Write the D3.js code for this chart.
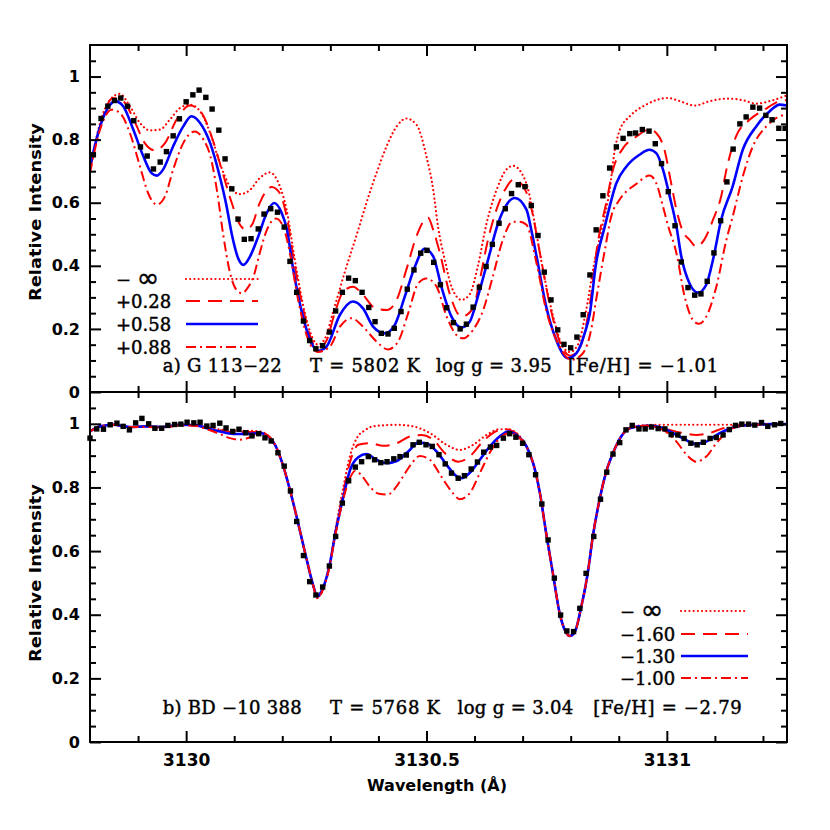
<!DOCTYPE html>
<html><head><meta charset="utf-8">
<script src="https://cdn.jsdelivr.net/npm/d3@7"></script>
<style>body{margin:0;background:#fff}</style>
</head><body>
<svg id="chart" width="830" height="830"></svg>
<script>
// ---------------- DATA ----------------
const waveDomain = [3129.8, 3131.25];
const fluxDomain = [0, 1.1];
const xMajorTicks = [3130, 3130.5, 3131];
const xTickLabels = ["3130", "3130.5", "3131"];
const xMinorTicks = [3129.9, 3130.1, 3130.2, 3130.3, 3130.4, 3130.6, 3130.7, 3130.8, 3130.9, 3131.1, 3131.2];
const yMajorTicks = [0, 0.2, 0.4, 0.6, 0.8, 1];
const yTickLabels = ["0", "0.2", "0.4", "0.6", "0.8", "1"];
const yMinorTicks = [0.05,0.1,0.15,0.25,0.3,0.35,0.45,0.5,0.55,0.65,0.7,0.75,0.85,0.9,0.95,1.05];

// Panel a) G 113-22 : observed spectrum
const topObserved = [[3129.807,0.752],[3129.823,0.867],[3129.837,0.906],[3129.851,0.924],[3129.864,0.932],[3129.878,0.906],[3129.891,0.860],[3129.905,0.777],[3129.919,0.748],[3129.932,0.707],[3129.946,0.729],[3129.959,0.762],[3129.973,0.812],[3129.986,0.866],[3130.000,0.920],[3130.014,0.942],[3130.027,0.957],[3130.041,0.934],[3130.054,0.897],[3130.068,0.830],[3130.081,0.739],[3130.095,0.644],[3130.108,0.548],[3130.121,0.484],[3130.135,0.486],[3130.150,0.517],[3130.162,0.564],[3130.176,0.581],[3130.190,0.570],[3130.204,0.523],[3130.216,0.414],[3130.230,0.316],[3130.244,0.225],[3130.257,0.163],[3130.270,0.137],[3130.284,0.147],[3130.298,0.190],[3130.311,0.257],[3130.325,0.316],[3130.338,0.361],[3130.352,0.353],[3130.366,0.316],[3130.380,0.268],[3130.393,0.223],[3130.406,0.186],[3130.420,0.184],[3130.433,0.202],[3130.447,0.255],[3130.460,0.326],[3130.474,0.387],[3130.488,0.440],[3130.501,0.449],[3130.515,0.411],[3130.529,0.340],[3130.542,0.267],[3130.556,0.220],[3130.570,0.200],[3130.583,0.215],[3130.597,0.269],[3130.610,0.332],[3130.624,0.398],[3130.637,0.468],[3130.651,0.535],[3130.664,0.581],[3130.677,0.629],[3130.691,0.657],[3130.705,0.651],[3130.718,0.591],[3130.732,0.496],[3130.745,0.380],[3130.759,0.292],[3130.773,0.197],[3130.786,0.151],[3130.800,0.140],[3130.813,0.174],[3130.826,0.245],[3130.840,0.371],[3130.853,0.514],[3130.867,0.622],[3130.881,0.710],[3130.895,0.777],[3130.909,0.804],[3130.923,0.819],[3130.935,0.821],[3130.949,0.832],[3130.963,0.827],[3130.976,0.787],[3130.989,0.724],[3131.003,0.635],[3131.017,0.527],[3131.030,0.412],[3131.044,0.331],[3131.058,0.307],[3131.071,0.311],[3131.084,0.351],[3131.098,0.441],[3131.112,0.543],[3131.125,0.666],[3131.138,0.770],[3131.152,0.850],[3131.165,0.872],[3131.179,0.903],[3131.193,0.900],[3131.206,0.877],[3131.219,0.863],[3131.233,0.836],[3131.246,0.836]];

// Panel a) synthetic spectra
const topFitNone = [[3129.800,0.705],[3129.821,0.853],[3129.842,0.927],[3129.862,0.945],[3129.883,0.906],[3129.904,0.853],[3129.925,0.829],[3129.946,0.832],[3129.966,0.863],[3129.987,0.900],[3130.008,0.911],[3130.029,0.890],[3130.050,0.821],[3130.070,0.726],[3130.091,0.652],[3130.112,0.627],[3130.133,0.641],[3130.153,0.678],[3130.174,0.696],[3130.195,0.652],[3130.209,0.578],[3130.226,0.420],[3130.247,0.250],[3130.262,0.175],[3130.274,0.150],[3130.289,0.170],[3130.305,0.250],[3130.330,0.380],[3130.358,0.514],[3130.375,0.599],[3130.396,0.694],[3130.417,0.779],[3130.438,0.842],[3130.458,0.867],[3130.479,0.848],[3130.500,0.747],[3130.514,0.641],[3130.524,0.525],[3130.538,0.420],[3130.553,0.330],[3130.573,0.292],[3130.590,0.310],[3130.607,0.400],[3130.625,0.535],[3130.646,0.641],[3130.666,0.705],[3130.680,0.717],[3130.698,0.694],[3130.715,0.620],[3130.725,0.535],[3130.746,0.360],[3130.767,0.220],[3130.783,0.145],[3130.798,0.127],[3130.815,0.150],[3130.831,0.250],[3130.848,0.400],[3130.864,0.514],[3130.881,0.640],[3130.891,0.760],[3130.902,0.830],[3130.923,0.874],[3130.957,0.911],[3131.002,0.932],[3131.027,0.922],[3131.058,0.908],[3131.089,0.922],[3131.127,0.930],[3131.158,0.925],[3131.186,0.914],[3131.214,0.922],[3131.249,0.940]];
const topFit028 = [[3129.800,0.705],[3129.821,0.842],[3129.848,0.932],[3129.869,0.922],[3129.894,0.853],[3129.914,0.789],[3129.935,0.766],[3129.956,0.789],[3129.980,0.863],[3130.008,0.908],[3130.032,0.885],[3130.053,0.810],[3130.074,0.705],[3130.095,0.599],[3130.112,0.530],[3130.124,0.515],[3130.137,0.530],[3130.153,0.599],[3130.178,0.650],[3130.195,0.630],[3130.209,0.557],[3130.226,0.400],[3130.247,0.240],[3130.262,0.160],[3130.274,0.140],[3130.291,0.160],[3130.309,0.250],[3130.327,0.318],[3130.347,0.334],[3130.368,0.308],[3130.393,0.266],[3130.417,0.260],[3130.438,0.292],[3130.458,0.387],[3130.479,0.493],[3130.496,0.546],[3130.503,0.553],[3130.514,0.514],[3130.528,0.440],[3130.548,0.313],[3130.573,0.239],[3130.597,0.266],[3130.611,0.356],[3130.628,0.483],[3130.646,0.580],[3130.663,0.640],[3130.681,0.673],[3130.700,0.655],[3130.717,0.590],[3130.736,0.440],[3130.756,0.280],[3130.777,0.160],[3130.800,0.115],[3130.819,0.140],[3130.840,0.280],[3130.856,0.470],[3130.874,0.600],[3130.888,0.705],[3130.909,0.773],[3130.937,0.810],[3130.964,0.832],[3130.978,0.821],[3130.995,0.768],[3131.009,0.662],[3131.020,0.578],[3131.033,0.510],[3131.047,0.483],[3131.061,0.461],[3131.078,0.483],[3131.096,0.546],[3131.113,0.620],[3131.124,0.705],[3131.144,0.810],[3131.172,0.863],[3131.203,0.895],[3131.235,0.922],[3131.249,0.925]];
const topFit058 = [[3129.800,0.714],[3129.821,0.842],[3129.842,0.911],[3129.852,0.922],[3129.869,0.906],[3129.890,0.832],[3129.911,0.747],[3129.928,0.694],[3129.939,0.686],[3129.952,0.705],[3129.973,0.779],[3129.994,0.842],[3130.011,0.874],[3130.029,0.853],[3130.050,0.789],[3130.070,0.683],[3130.084,0.590],[3130.095,0.500],[3130.108,0.425],[3130.119,0.403],[3130.133,0.430],[3130.150,0.493],[3130.167,0.565],[3130.183,0.599],[3130.199,0.567],[3130.209,0.520],[3130.223,0.387],[3130.243,0.239],[3130.261,0.154],[3130.275,0.131],[3130.292,0.144],[3130.320,0.245],[3130.347,0.287],[3130.368,0.265],[3130.389,0.207],[3130.413,0.186],[3130.434,0.213],[3130.455,0.303],[3130.476,0.398],[3130.496,0.454],[3130.514,0.430],[3130.531,0.334],[3130.552,0.239],[3130.573,0.205],[3130.590,0.223],[3130.607,0.303],[3130.628,0.419],[3130.649,0.535],[3130.659,0.573],[3130.684,0.615],[3130.708,0.578],[3130.718,0.514],[3130.729,0.430],[3130.749,0.271],[3130.770,0.165],[3130.794,0.107],[3130.812,0.123],[3130.829,0.186],[3130.840,0.250],[3130.852,0.400],[3130.871,0.525],[3130.895,0.662],[3130.916,0.715],[3130.943,0.752],[3130.964,0.768],[3130.978,0.757],[3130.992,0.705],[3131.006,0.620],[3131.020,0.525],[3131.030,0.430],[3131.047,0.345],[3131.065,0.315],[3131.082,0.340],[3131.096,0.419],[3131.113,0.546],[3131.137,0.652],[3131.158,0.768],[3131.186,0.842],[3131.214,0.890],[3131.235,0.911],[3131.249,0.908]];
const topFit088 = [[3129.800,0.694],[3129.821,0.832],[3129.845,0.895],[3129.862,0.885],[3129.883,0.821],[3129.904,0.715],[3129.921,0.630],[3129.939,0.594],[3129.956,0.620],[3129.973,0.705],[3129.994,0.789],[3130.018,0.826],[3130.036,0.800],[3130.050,0.750],[3130.064,0.640],[3130.077,0.500],[3130.091,0.380],[3130.104,0.325],[3130.116,0.313],[3130.128,0.330],[3130.141,0.370],[3130.153,0.440],[3130.168,0.514],[3130.187,0.550],[3130.203,0.520],[3130.216,0.440],[3130.232,0.300],[3130.253,0.170],[3130.274,0.127],[3130.299,0.144],[3130.320,0.207],[3130.344,0.234],[3130.368,0.207],[3130.396,0.160],[3130.420,0.135],[3130.441,0.160],[3130.462,0.250],[3130.483,0.345],[3130.500,0.360],[3130.521,0.334],[3130.542,0.239],[3130.562,0.181],[3130.576,0.170],[3130.597,0.197],[3130.618,0.260],[3130.638,0.366],[3130.659,0.483],[3130.679,0.540],[3130.694,0.540],[3130.708,0.530],[3130.729,0.408],[3130.749,0.260],[3130.777,0.144],[3130.801,0.102],[3130.822,0.117],[3130.840,0.180],[3130.856,0.320],[3130.871,0.450],[3130.885,0.560],[3130.902,0.610],[3130.937,0.660],[3130.964,0.686],[3130.978,0.662],[3130.992,0.588],[3131.002,0.530],[3131.020,0.440],[3131.037,0.303],[3131.054,0.229],[3131.067,0.216],[3131.082,0.239],[3131.103,0.334],[3131.124,0.483],[3131.137,0.556],[3131.158,0.683],[3131.179,0.779],[3131.207,0.842],[3131.235,0.874],[3131.249,0.879]];

// Panel b) BD -10 388 : observed spectrum
const botObserved = [[3129.800,0.955],[3129.814,0.984],[3129.828,0.983],[3129.842,0.997],[3129.856,1.002],[3129.869,0.992],[3129.882,0.981],[3129.895,1.003],[3129.908,1.017],[3129.922,1.000],[3129.935,0.986],[3129.949,0.986],[3129.962,0.995],[3129.976,0.998],[3129.989,0.999],[3130.002,1.005],[3130.016,1.003],[3130.029,1.005],[3130.043,0.993],[3130.056,0.995],[3130.070,1.002],[3130.083,0.987],[3130.097,0.976],[3130.110,0.983],[3130.124,0.972],[3130.137,0.962],[3130.151,0.969],[3130.164,0.956],[3130.177,0.946],[3130.191,0.909],[3130.204,0.867],[3130.217,0.789],[3130.230,0.693],[3130.244,0.586],[3130.257,0.504],[3130.270,0.462],[3130.284,0.487],[3130.298,0.553],[3130.311,0.646],[3130.325,0.751],[3130.338,0.821],[3130.352,0.864],[3130.365,0.881],[3130.379,0.897],[3130.392,0.887],[3130.405,0.878],[3130.418,0.881],[3130.432,0.890],[3130.445,0.897],[3130.458,0.902],[3130.472,0.934],[3130.485,0.942],[3130.499,0.934],[3130.512,0.929],[3130.526,0.903],[3130.539,0.874],[3130.552,0.845],[3130.566,0.829],[3130.579,0.837],[3130.593,0.858],[3130.606,0.880],[3130.619,0.911],[3130.633,0.927],[3130.646,0.932],[3130.660,0.955],[3130.673,0.969],[3130.686,0.958],[3130.700,0.939],[3130.713,0.903],[3130.727,0.840],[3130.740,0.748],[3130.753,0.635],[3130.766,0.515],[3130.779,0.399],[3130.792,0.349],[3130.806,0.347],[3130.819,0.420],[3130.832,0.530],[3130.848,0.646],[3130.862,0.763],[3130.875,0.848],[3130.888,0.905],[3130.902,0.941],[3130.915,0.981],[3130.928,0.995],[3130.942,0.984],[3130.955,0.984],[3130.968,0.990],[3130.982,0.985],[3130.996,0.984],[3131.009,0.966],[3131.023,0.965],[3131.036,0.954],[3131.050,0.939],[3131.063,0.934],[3131.076,0.942],[3131.090,0.954],[3131.103,0.957],[3131.117,0.965],[3131.130,0.982],[3131.143,0.995],[3131.156,0.999],[3131.170,0.999],[3131.183,0.996],[3131.197,1.004],[3131.210,0.992],[3131.224,0.997],[3131.237,1.001]];

// Panel b) synthetic spectra
const botFitNone = [[3129.800,0.976],[3129.821,0.992],[3129.848,0.997],[3129.883,0.990],[3129.918,0.992],[3129.952,0.990],[3129.987,0.997],[3130.022,0.995],[3130.043,0.990],[3130.070,0.982],[3130.098,0.978],[3130.126,0.978],[3130.153,0.976],[3130.171,0.962],[3130.185,0.934],[3130.199,0.881],[3130.216,0.792],[3130.233,0.688],[3130.251,0.572],[3130.264,0.494],[3130.273,0.455],[3130.282,0.470],[3130.298,0.550],[3130.311,0.670],[3130.327,0.800],[3130.341,0.900],[3130.355,0.955],[3130.372,0.980],[3130.389,0.992],[3130.438,0.997],[3130.472,0.992],[3130.507,0.971],[3130.542,0.934],[3130.569,0.918],[3130.597,0.934],[3130.625,0.965],[3130.652,0.983],[3130.670,0.983],[3130.687,0.971],[3130.708,0.929],[3130.722,0.876],[3130.736,0.782],[3130.749,0.656],[3130.763,0.530],[3130.777,0.405],[3130.790,0.345],[3130.798,0.333],[3130.808,0.344],[3130.822,0.425],[3130.836,0.536],[3130.846,0.646],[3130.860,0.761],[3130.874,0.850],[3130.888,0.908],[3130.905,0.960],[3130.923,0.988],[3130.957,0.996],[3131.006,0.997],[3131.068,0.997],[3131.151,0.997],[3131.249,0.999]];
const botFit160 = [[3129.800,0.976],[3129.821,0.992],[3129.848,0.997],[3129.883,0.990],[3129.918,0.992],[3129.952,0.990],[3129.987,0.997],[3130.022,0.995],[3130.043,0.988],[3130.070,0.980],[3130.098,0.974],[3130.126,0.974],[3130.153,0.974],[3130.171,0.961],[3130.185,0.934],[3130.199,0.881],[3130.216,0.792],[3130.233,0.688],[3130.251,0.572],[3130.264,0.494],[3130.273,0.456],[3130.282,0.472],[3130.298,0.552],[3130.311,0.665],[3130.327,0.785],[3130.341,0.880],[3130.358,0.934],[3130.382,0.939],[3130.410,0.931],[3130.438,0.939],[3130.465,0.960],[3130.490,0.965],[3130.514,0.950],[3130.538,0.908],[3130.566,0.881],[3130.590,0.897],[3130.614,0.939],[3130.638,0.971],[3130.663,0.983],[3130.680,0.976],[3130.694,0.960],[3130.708,0.929],[3130.722,0.876],[3130.736,0.782],[3130.749,0.656],[3130.763,0.530],[3130.777,0.405],[3130.790,0.345],[3130.798,0.333],[3130.808,0.344],[3130.822,0.425],[3130.836,0.536],[3130.846,0.646],[3130.860,0.761],[3130.874,0.850],[3130.888,0.908],[3130.905,0.960],[3130.923,0.986],[3130.957,0.994],[3130.985,0.990],[3131.006,0.981],[3131.033,0.971],[3131.061,0.965],[3131.089,0.971],[3131.117,0.986],[3131.144,0.995],[3131.193,0.998],[3131.249,0.999]];
const botFit130 = [[3129.800,0.976],[3129.821,0.992],[3129.848,0.997],[3129.883,0.990],[3129.918,0.992],[3129.952,0.990],[3129.987,0.997],[3130.022,0.995],[3130.043,0.986],[3130.070,0.976],[3130.098,0.968],[3130.126,0.968],[3130.153,0.971],[3130.171,0.960],[3130.185,0.934],[3130.199,0.881],[3130.216,0.792],[3130.233,0.688],[3130.251,0.572],[3130.264,0.494],[3130.273,0.458],[3130.282,0.475],[3130.298,0.553],[3130.311,0.660],[3130.327,0.770],[3130.341,0.855],[3130.358,0.895],[3130.375,0.905],[3130.396,0.887],[3130.417,0.876],[3130.438,0.883],[3130.462,0.913],[3130.483,0.941],[3130.500,0.939],[3130.521,0.913],[3130.542,0.871],[3130.559,0.840],[3130.573,0.829],[3130.590,0.846],[3130.611,0.887],[3130.632,0.929],[3130.652,0.960],[3130.670,0.976],[3130.687,0.965],[3130.708,0.929],[3130.722,0.876],[3130.736,0.782],[3130.749,0.656],[3130.763,0.530],[3130.777,0.405],[3130.790,0.345],[3130.798,0.333],[3130.808,0.344],[3130.822,0.425],[3130.836,0.536],[3130.846,0.646],[3130.860,0.761],[3130.874,0.850],[3130.888,0.908],[3130.905,0.960],[3130.923,0.986],[3130.957,0.994],[3130.985,0.990],[3131.006,0.976],[3131.033,0.955],[3131.061,0.937],[3131.082,0.944],[3131.110,0.971],[3131.137,0.988],[3131.179,0.997],[3131.221,0.999],[3131.249,0.999]];
const botFit100 = [[3129.800,0.976],[3129.821,0.992],[3129.848,0.997],[3129.883,0.990],[3129.918,0.990],[3129.952,0.988],[3129.987,0.995],[3130.022,0.993],[3130.043,0.983],[3130.070,0.968],[3130.091,0.955],[3130.112,0.950],[3130.133,0.958],[3130.153,0.972],[3130.171,0.962],[3130.185,0.934],[3130.199,0.881],[3130.216,0.792],[3130.233,0.688],[3130.251,0.572],[3130.264,0.494],[3130.273,0.452],[3130.282,0.470],[3130.298,0.550],[3130.311,0.655],[3130.327,0.765],[3130.341,0.830],[3130.351,0.852],[3130.365,0.838],[3130.382,0.803],[3130.401,0.780],[3130.420,0.778],[3130.436,0.800],[3130.451,0.834],[3130.469,0.875],[3130.486,0.899],[3130.507,0.887],[3130.531,0.834],[3130.555,0.782],[3130.569,0.763],[3130.590,0.782],[3130.611,0.845],[3130.635,0.918],[3130.656,0.960],[3130.673,0.971],[3130.690,0.960],[3130.708,0.929],[3130.722,0.876],[3130.736,0.782],[3130.749,0.656],[3130.763,0.530],[3130.777,0.405],[3130.790,0.345],[3130.798,0.333],[3130.808,0.344],[3130.822,0.425],[3130.836,0.536],[3130.846,0.646],[3130.860,0.761],[3130.874,0.850],[3130.888,0.908],[3130.905,0.960],[3130.923,0.986],[3130.957,0.994],[3130.992,0.981],[3131.020,0.944],[3131.041,0.903],[3131.061,0.881],[3131.082,0.897],[3131.103,0.939],[3131.131,0.981],[3131.158,0.994],[3131.193,0.998],[3131.249,0.999]];

const topLegendLabels = ["\u2212 \u221E", "+0.28", "+0.58", "+0.88"];
const botLegendLabels = ["\u2212 \u221E", "\u22121.60", "\u22121.30", "\u22121.00"];
const topInfo = ["a) G 113\u221222", "T = 5802 K", "log g = 3.95", "[Fe/H] = \u22121.01"];
const botInfo = ["b) BD \u221210 388", "T = 5768 K", "log g = 3.04", "[Fe/H] = \u22122.79"];
const xTitle = "Wavelength (\u00C5)";
const yTitle = "Relative Intensity";

// ---------------- STYLES / LAYOUT ----------------
const styles = [
  {color:"#ff0000", width:2.2, dash:"0.01 4.2", cap:"round"},
  {color:"#ff0000", width:2.0, dash:"14 8", cap:"butt"},
  {color:"#0000ff", width:2.6, dash:null, cap:"butt"},
  {color:"#ff0000", width:2.0, dash:"10 4 2 4", cap:"butt"}
];
const L = 90, R = 787;
const svg = d3.select("#chart");
svg.append("rect").attr("width",830).attr("height",830).attr("fill","#fff");
const x = d3.scaleLinear().domain(waveDomain).range([L, R]);

const panels = [
  {y: d3.scaleLinear().domain(fluxDomain).range([392, 45]), fits:[topFitNone, topFit028, topFit058, topFit088],
   obs: topObserved, legend: topLegendLabels, legX: 116, legLine:[186,258], legY:[279,301,324,347],
   info: topInfo, infoX:[[162.7,119],[310,110],[436,115.7],[568,150.3]], infoY:372, showX:false, titleY:212, id:"a"},
  {y: d3.scaleLinear().domain(fluxDomain).range([742, 392]), fits:[botFitNone, botFit160, botFit130, botFit100],
   obs: botObserved, legend: botLegendLabels, legX: 620, legLine:[681,748], legY:[611,634,656,678],
   info: botInfo, infoX:[[162.7,139],[330,110],[457.6,115.7],[593.3,148.4]], infoY:714, showX:true, titleY:573, id:"b"}
];

const tickFont = "'DejaVu Sans', sans-serif";
const textFont = "'DejaVu Serif', serif";

panels.forEach(p => {
  const y = p.y;
  const top = y.range()[1], bottom = y.range()[0];
  const g = svg.append("g");
  const clipId = "clip-" + p.id;
  svg.append("clipPath").attr("id", clipId).append("rect")
    .attr("x", L).attr("y", top).attr("width", R - L).attr("height", bottom - top);

  const line = d3.line().x(d => x(d[0])).y(d => y(d[1])).curve(d3.curveMonotoneX);
  const cg = g.append("g").attr("clip-path", `url(#${clipId})`);
  p.fits.forEach((data, i) => {
    const s = styles[i];
    cg.append("path").datum(data).attr("d", line)
      .attr("fill","none").attr("stroke", s.color).attr("stroke-width", s.width)
      .attr("stroke-dasharray", s.dash).attr("stroke-linecap", s.cap).attr("stroke-linejoin","round");
  });

  // observed points
  const sq = 5.4;
  g.append("g").selectAll("rect").data(p.obs).join("rect")
    .attr("x", d => x(d[0]) - sq/2).attr("y", d => y(d[1]) - sq/2)
    .attr("width", sq).attr("height", sq).attr("fill", "#000");

  // axes
  const styleAxis = sel => {
    sel.select(".domain").remove();
    sel.selectAll(".tick line").attr("stroke","#000").attr("stroke-width",2);
    sel.selectAll("text").attr("font-family", tickFont).attr("font-weight","bold").attr("fill","#000");
  };
  const noLabel = () => "";
  g.append("g").attr("transform",`translate(0,${bottom})`)
    .call(d3.axisBottom(x).tickValues(xMajorTicks).tickSize(-11).tickSizeOuter(0).tickPadding(12)
      .tickFormat(p.showX ? ((d,i) => xTickLabels[i]) : noLabel))
    .call(styleAxis).selectAll("text").attr("font-size", 17);
  g.append("g").attr("transform",`translate(0,${bottom})`)
    .call(d3.axisBottom(x).tickValues(xMinorTicks).tickSize(-6).tickSizeOuter(0).tickFormat(noLabel)).call(styleAxis);
  g.append("g").attr("transform",`translate(0,${top})`)
    .call(d3.axisTop(x).tickValues(xMajorTicks).tickSize(-11).tickSizeOuter(0).tickFormat(noLabel)).call(styleAxis);
  g.append("g").attr("transform",`translate(0,${top})`)
    .call(d3.axisTop(x).tickValues(xMinorTicks).tickSize(-6).tickSizeOuter(0).tickFormat(noLabel)).call(styleAxis);
  g.append("g").attr("transform",`translate(${L},0)`)
    .call(d3.axisLeft(y).tickValues(yMajorTicks).tickSize(-11).tickSizeOuter(0).tickPadding(10)
      .tickFormat((d,i) => yTickLabels[i]))
    .call(styleAxis).selectAll("text").attr("font-size", 16);
  g.append("g").attr("transform",`translate(${L},0)`)
    .call(d3.axisLeft(y).tickValues(yMinorTicks).tickSize(-6).tickSizeOuter(0).tickFormat(noLabel)).call(styleAxis);
  g.append("g").attr("transform",`translate(${R},0)`)
    .call(d3.axisRight(y).tickValues(yMajorTicks).tickSize(-11).tickSizeOuter(0).tickFormat(noLabel)).call(styleAxis);
  g.append("g").attr("transform",`translate(${R},0)`)
    .call(d3.axisRight(y).tickValues(yMinorTicks).tickSize(-6).tickSizeOuter(0).tickFormat(noLabel)).call(styleAxis);

  // frame
  g.append("rect").attr("x", L).attr("y", top).attr("width", R - L).attr("height", bottom - top)
    .attr("fill","none").attr("stroke","#000").attr("stroke-width",2);

  // y title
  g.append("text").attr("transform", `translate(41,${p.titleY}) rotate(-90)`)
    .attr("text-anchor","middle").attr("font-family", tickFont).attr("font-weight","bold")
    .attr("font-size",15).attr("textLength",178).attr("lengthAdjust","spacingAndGlyphs").text(yTitle);

  // legend
  p.legend.forEach((lab, i) => {
    const s = styles[i];
    const yy = p.legY[i];
    const t = g.append("text").attr("x", p.legX).attr("y", yy + 6.5)
      .attr("font-family", textFont).attr("font-size", 18).attr("fill","#000")
      .attr("stroke","#000").attr("stroke-width",0.45);
    if (lab.indexOf("\u221E") >= 0) {
      t.append("tspan").text("\u2212 ");
      t.append("tspan").attr("font-size", 27).attr("font-family","'DejaVu Sans', sans-serif").attr("dy", 1).text("\u221E");
    } else {
      t.text(lab);
    }
    g.append("line").attr("x1", p.legLine[0]).attr("x2", p.legLine[1]).attr("y1", yy).attr("y2", yy)
      .attr("stroke", s.color).attr("stroke-width", s.width).attr("stroke-dasharray", s.dash).attr("stroke-linecap", s.cap);
  });

  // star info
  p.info.forEach((txt, i) => {
    g.append("text").attr("x", p.infoX[i][0]).attr("y", p.infoY)
      .attr("font-family", textFont).attr("font-size", 18).attr("fill","#000")
      .attr("stroke","#000").attr("stroke-width",0.45)
      .attr("textLength", p.infoX[i][1]).attr("lengthAdjust","spacing").text(txt);
  });
});

svg.append("text").attr("x", 437).attr("y", 791).attr("text-anchor","middle")
  .attr("font-family", tickFont).attr("font-weight","bold").attr("font-size",16).text(xTitle);
</script>
</body></html>
